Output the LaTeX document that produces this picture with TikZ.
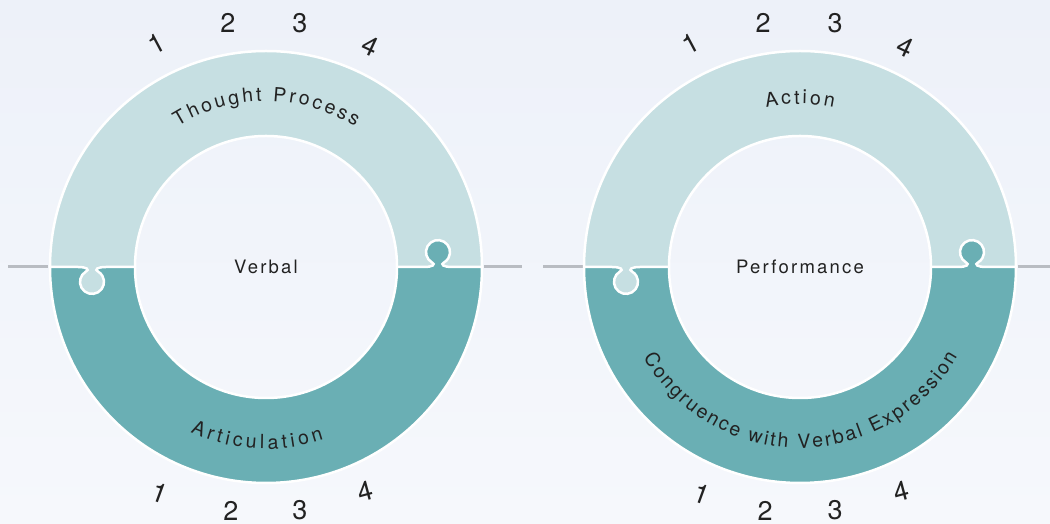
\documentclass[tikz,border=0pt]{standalone}
\usepackage{fontspec}
\setmainfont{TeX Gyre Heros}
\newfontfamily\labelfont[LetterSpace=12]{TeX Gyre Heros}
\usetikzlibrary{decorations.text}
\definecolor{bgtop}{RGB}{237,241,249}
\definecolor{bgbot}{RGB}{246,248,252}
\definecolor{lightband}{RGB}{198,223,226}
\definecolor{darkband}{RGB}{106,175,180}
\definecolor{rulegray}{RGB}{185,188,194}
\definecolor{ink}{RGB}{34,34,34}
\newcommand\curvefont{\fontsize{19.5}{21}\selectfont}
\newcommand\knobdownpath[1]{({#1-14},0) .. controls ({#1-5},0) and ({#1-2.2},-2.6) .. ({#1-6},-4.5) arc[start angle=120,end angle=420,radius=12] .. controls ({#1+2.2},-2.6) and ({#1+5},0) .. ({#1+14},0)}
\newcommand\knobuppath[1]{({#1-14},0) .. controls ({#1-5},0) and ({#1-2.2},2.6) .. ({#1-6},4.5) arc[start angle=240,end angle=-60,radius=12] .. controls ({#1+2.2},2.6) and ({#1+5},0) .. ({#1+14},0)}
\tikzset{
  outline/.style={draw=white, line width=2.5pt},
  sideline/.style={draw=rulegray, line width=3pt},
  centerlabel/.style={font=\labelfont\fontsize{18.5}{20}\selectfont, text=ink, inner sep=0pt},
  numlabel/.style={font=\fontsize{27}{29}\selectfont, text=ink, inner sep=0pt},
  curvetext/.style={decorate, decoration={text along path, text={|\curvefont|#1}, text color=ink, text align=fit to path}}
}
\begin{document}
\begin{tikzpicture}[x=1pt,y=1pt]
\useasboundingbox (0,0) rectangle (1050,524);
\clip (0,0) rectangle (1050,524);
\shade[top color=bgtop, bottom color=bgbot] (0,0) rectangle (1050,524);

% ring 1
\begin{scope}[shift={(266,257)}]
  \coordinate (la1) at (-258,0); \coordinate (la2) at (-218,0);
  \coordinate (lb1) at (218,0); \coordinate (lb2) at (256,0);
  \draw[sideline] (la1) -- (la2);
  \draw[sideline] (lb1) -- (lb2);
  \fill[darkband, even odd rule] (0,0) circle[radius=216] (0,0) circle[radius=131];
  \fill[lightband] (-216,0) arc[start angle=180,end angle=0,radius=216] -- (131,0) arc[start angle=0,end angle=180,radius=131] -- cycle;
  \fill[lightband] \knobdownpath{-174} -- cycle;
  \fill[darkband] \knobuppath{172} -- cycle;
  \draw[outline] (-216,0) -- \knobdownpath{-174} -- (-131,0);
  \draw[outline] (131,0) -- \knobuppath{172} -- (216,0);
  \draw[outline] (0,0) circle[radius=216];
  \draw[outline] (0,0) circle[radius=131];
  \path[curvetext={Thought Process}] (122:166) arc[start angle=122,end angle=57.5,radius=166];
  \path[curvetext={Articulation}] (-114.5:182) arc[start angle=-114.5,end angle=-71.5,radius=182];
  \node[centerlabel] (verbal) at (0,0) {Verbal};
\end{scope}

% ring 2
\begin{scope}[shift={(800,257)}]
  \coordinate (ra1) at (-257,0); \coordinate (ra2) at (-217,0);
  \coordinate (rb1) at (218,0); \coordinate (rb2) at (260,0);
  \draw[sideline] (ra1) -- (ra2);
  \draw[sideline] (rb1) -- (rb2);
  \fill[darkband, even odd rule] (0,0) circle[radius=216] (0,0) circle[radius=131];
  \fill[lightband] (-216,0) arc[start angle=180,end angle=0,radius=216] -- (131,0) arc[start angle=0,end angle=180,radius=131] -- cycle;
  \fill[lightband] \knobdownpath{-174} -- cycle;
  \fill[darkband] \knobuppath{172} -- cycle;
  \draw[outline] (-216,0) -- \knobdownpath{-174} -- (-131,0);
  \draw[outline] (131,0) -- \knobuppath{172} -- (216,0);
  \draw[outline] (0,0) circle[radius=216];
  \draw[outline] (0,0) circle[radius=131];
  \path[curvetext={Action}] (102:163) arc[start angle=102,end angle=78,radius=163];
  \path[curvetext={Congruence with Verbal Expression}] (-150:181) arc[start angle=-150,end angle=-29.5,radius=181];
  \node[centerlabel] (performance) at (0,0) {Performance};
\end{scope}

% numbers ring 1
\node[numlabel, rotate=28] (l1t1) at (157,480) {1};
\node[numlabel] (l1t2) at (228,501) {2};
\node[numlabel] (l1t3) at (300,501) {3};
\node[numlabel, rotate=-25] (l1t4) at (370,478) {4};
\node[numlabel, rotate=-20] (l1b1) at (160,31) {1};
\node[numlabel] (l1b2) at (231,13) {2};
\node[numlabel] (l1b3) at (300,14) {3};
\node[numlabel, rotate=15] (l1b4) at (365,33) {4};
% numbers ring 2
\node[numlabel, rotate=28] (r1t1) at (691,480) {1};
\node[numlabel] (r1t2) at (763,501) {2};
\node[numlabel] (r1t3) at (835,501) {3};
\node[numlabel, rotate=-25] (r1t4) at (905,477) {4};
\node[numlabel, rotate=-20] (r1b1) at (702,30) {1};
\node[numlabel] (r1b2) at (765,13) {2};
\node[numlabel] (r1b3) at (835,14) {3};
\node[numlabel, rotate=15] (r1b4) at (901,33) {4};
\end{tikzpicture}
\end{document}
